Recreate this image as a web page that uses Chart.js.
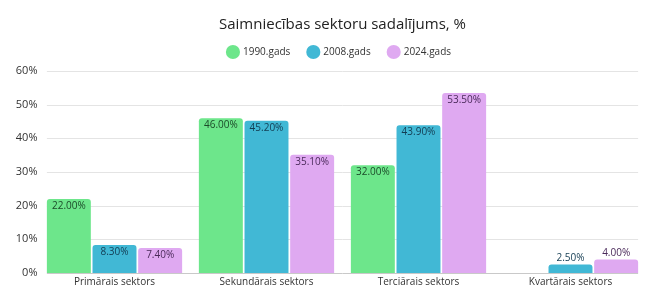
<!DOCTYPE html>
<html>
<head>
<meta charset="utf-8">
<script src="https://cdn.jsdelivr.net/npm/chart.js@4"></script>
<style>
  html, body { margin: 0; padding: 0; background: #fff; }
  #wrap { width: 658px; height: 304px; }
</style>
</head>
<body>
<div id="wrap"><canvas id="chart"></canvas></div>
<script>
const categories = ['Primārais sektors', 'Sekundārais sektors', 'Terciārais sektors', 'Kvartārais sektors'];
const seriesNames = ['1990.gads', '2008.gads', '2024.gads'];
const values1990 = [22.0, 46.0, 32.0, null];
const values2008 = [8.3, 45.2, 43.9, 2.5];
const values2024 = [7.4, 35.1, 53.5, 4.0];
const yTicks = [0, 10, 20, 30, 40, 50, 60];

const fills = ['#6de68b', '#41b8d5', '#dfa9f1'];
const labelColors = ['#1c4a29', '#133c52', '#4a2a5a'];

// horizontal grid only spans from the first bar to the last one
const gridLines = {
  id: 'gridLines',
  beforeDatasetsDraw(chart) {
    const ctx = chart.ctx;
    const y = chart.scales.y;
    const first = chart.getDatasetMeta(0).data[0];
    const lastMeta = chart.getDatasetMeta(chart.data.datasets.length - 1);
    const last = lastMeta.data[lastMeta.data.length - 1];
    const x0 = first.x - first.width / 2;
    const x1 = last.x + last.width / 2;
    ctx.save();
    ctx.lineWidth = 1;
    yTicks.forEach(v => {
      const py = Math.round(y.getPixelForValue(v)) + 0.5;
      ctx.strokeStyle = v === 0 ? '#c9c9c9' : '#e4e4e4';
      ctx.beginPath();
      ctx.moveTo(x0, py);
      ctx.lineTo(x1, py);
      ctx.stroke();
    });
    ctx.restore();
  }
};

// value labels: inside the top of tall bars, above short ones
const barLabels = {
  id: 'barLabels',
  afterDatasetsDraw(chart) {
    const ctx = chart.ctx;
    ctx.save();
    ctx.font = '10px "Open Sans"';
    ctx.textAlign = 'center';
    chart.data.datasets.forEach((ds, i) => {
      const meta = chart.getDatasetMeta(i);
      meta.data.forEach((bar, j) => {
        const v = ds.data[j];
        if (v == null) return;
        const h = bar.base - bar.y;
        ctx.fillStyle = labelColors[i];
        if (h > 20) {
          ctx.textBaseline = 'top';
          ctx.fillText(v.toFixed(2) + '%', bar.x, bar.y + 2);
        } else {
          ctx.textBaseline = 'bottom';
          ctx.fillText(v.toFixed(2) + '%', bar.x, bar.y - 1);
        }
      });
    });
    ctx.restore();
  }
};

// legend gets a bit more room below; title and legend centre over the plot
const headerFix = {
  id: 'headerFix',
  beforeInit(chart) {
    const fit = chart.legend.fit;
    chart.legend.fit = function () {
      fit.call(this);
      this.height += 4;
    };
  },
  afterLayout(chart) {
    const a = chart.chartArea;
    chart.titleBlock.left = a.left;
    chart.titleBlock.right = a.right;
    chart.titleBlock.width = a.right - a.left;
    chart.legend.left = a.left - 6;
    chart.legend.right = a.right;
    chart.legend.width = a.right - a.left + 6;
  }
};

new Chart(document.getElementById('chart'), {
  type: 'bar',
  data: {
    labels: categories,
    datasets: [values1990, values2008, values2024].map((d, i) => ({
      label: seriesNames[i],
      data: d,
      backgroundColor: fills[i],
      borderRadius: { topLeft: 3, topRight: 3 },
      categoryPercentage: 0.901,
      barPercentage: 0.963
    }))
  },
  options: {
    responsive: true,
    maintainAspectRatio: false,
    animation: false,
    layout: { padding: { left: 0, right: 11.5, top: 6, bottom: 13 } },
    plugins: {
      title: {
        display: true,
        text: 'Saimniecības sektoru sadalījums, %',
        color: '#222',
        font: { family: 'Open Sans', size: 15, weight: 'normal' },
        padding: { top: 10, bottom: -5 }
      },
      legend: {
        position: 'top',
        labels: {
          usePointStyle: true,
          pointStyle: 'circle',
          boxWidth: 10,
          boxHeight: 10,
          padding: 18,
          color: '#333',
          font: { family: 'Open Sans', size: 10 }
        }
      },
      tooltip: { enabled: false }
    },
    scales: {
      x: {
        grid: { display: false, drawTicks: false },
        border: { display: false },
        ticks: { color: '#333', font: { family: 'Open Sans', size: 10 }, padding: 3 }
      },
      y: {
        min: 0,
        max: 60,
        afterBuildTicks(axis) { axis.ticks = yTicks.map(v => ({ value: v })); },
        afterFit(axis) { axis.width = 38.5; },
        grid: { display: false, drawTicks: false },
        border: { display: false },
        ticks: {
          color: '#333',
          padding: 1,
          font: { family: 'Open Sans', size: 11 },
          callback: v => v + '%'
        }
      }
    }
  },
  plugins: [headerFix, gridLines, barLabels]
});
</script>
</body>
</html>
